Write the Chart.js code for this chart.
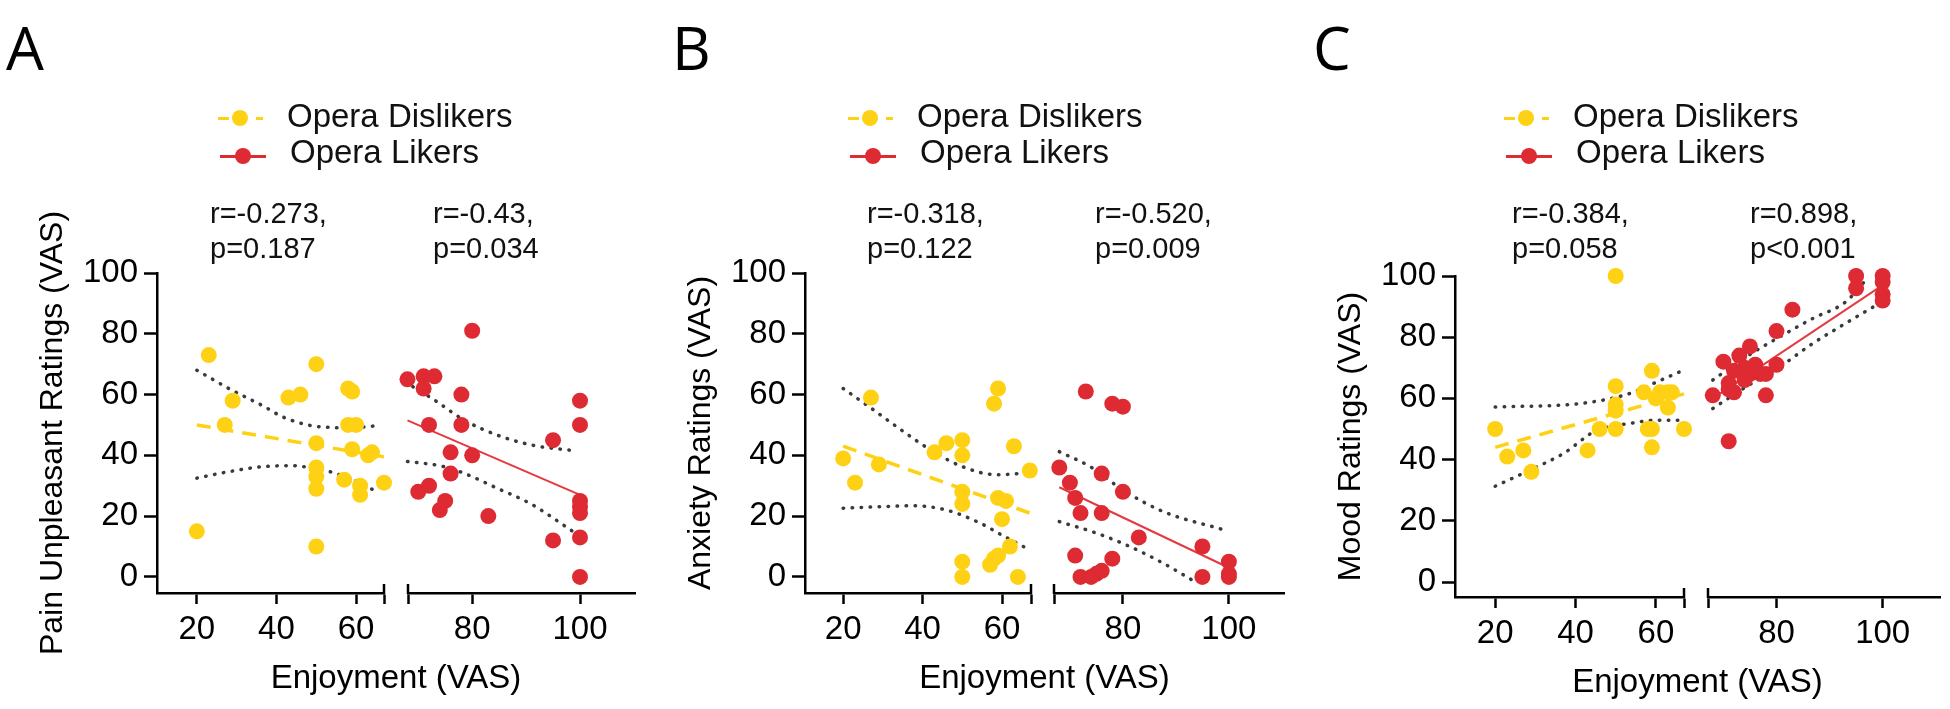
<!DOCTYPE html>
<html>
<head>
<meta charset="utf-8">
<script src="https://cdn.jsdelivr.net/npm/chart.js@4.4.1/dist/chart.umd.min.js"></script>
<style>
  body { margin: 0; background: #fff; width: 1950px; height: 709px; position: relative; overflow: hidden;
         font-family: "Liberation Sans", Arial, sans-serif; color: #111; }
  canvas { position: absolute; top: 0; }
  .letter { position: absolute; top: 17px; font: 60px/60px "Open Sans", sans-serif; color: #000; }
  .stat { position: absolute; top: 196px; font-size: 29px; line-height: 35px; white-space: nowrap; }
  .leg { position: absolute; font-size: 33px; line-height: 32px; white-space: nowrap; }
  .dot { position: absolute; width: 16px; height: 16px; border-radius: 50%; }
  .bar { position: absolute; height: 3px; }
</style>
</head>
<body>
<canvas id="panelA" width="650" height="709" style="left:0px"></canvas>
<canvas id="panelB" width="650" height="709" style="left:648px"></canvas>
<canvas id="panelC" width="650" height="709" style="left:1298px"></canvas>

<div class="letter" style="left:6px">A</div>
<div class="letter" style="left:672px">B</div>
<div class="letter" style="left:1313px">C</div>

<div id="legends"></div>

<div class="stat" style="left:210px">r=-0.273,<br>p=0.187</div>
<div class="stat" style="left:433px">r=-0.43,<br>p=0.034</div>
<div class="stat" style="left:867px">r=-0.318,<br>p=0.122</div>
<div class="stat" style="left:1095px">r=-0.520,<br>p=0.009</div>
<div class="stat" style="left:1512px">r=-0.384,<br>p=0.058</div>
<div class="stat" style="left:1750px">r=0.898,<br>p&lt;0.001</div>

<script>
const yTicks = [0, 20, 40, 60, 80, 100];
const leftTicks = [20, 40, 60];
const rightTicks = [80, 100];
const groupNames = ['Opera Dislikers', 'Opera Likers'];

// A - pain unpleasantness
const painDislikers = [[20,15],[23,73],[27,50],[29,58],[43,59],[46,60],[50,70],[50,44],[50,36],[50,33],[50,29],[50,10],
  [57,32],[58,62],[59,61],[58,50],[60,50],[59,42],[61,30],[61,27],[63,40],[64,41],[67,31]];
const painLikers = [[68,65],[71,66],[73,66],[71,62],[80,81],[78,60],[72,50],[78,50],[76,41],[80,40],[76,34],[70,28],
  [72,30],[75,25],[74,22],[83,20],[95,45],[95,12],[100,58],[100,50],[100,25],[100,23],[100,21],[100,13],[100,0]];
const painDisFit = [[20,50],[67,39.5]];
const painDisUpper = [[20,68],[24,65],[28,62],[32.5,59],[37,56],[41,53],[45,51],[49,49.7],[53.5,49.2],[58,49],[65,49.7]];
const painDisLower = [[20,32.5],[28,34.6],[36,36.2],[44,36.6],[49,35.8],[53.5,34.6],[59,32],[65,28.2]];
const painLikFit = [[68,51.5],[100,27]];
const painLikUpper = [[69,62.6],[73,58.2],[78.5,51.6],[84.6,46.7],[91,43.4],[99,41.5]];
const painLikLower = [[68,38],[74.7,36.3],[78.5,34.1],[84.6,29.2],[90.7,24.2],[99,14.6]];

// B - anxiety
const anxDislikers = [[20,39],[23,31],[27,59],[29,37],[43,41],[46,44],[50,45],[50,40],[50,28],[50,24],[50,5],[50,0],
  [58,57],[59,62],[63,43],[67,35],[59,26],[61,25],[60,19],[62,10],[59,7],[58,6],[57,4],[64,0]];
const anxLikers = [[68,36],[70,31],[71,26],[72,21],[71,7],[73,61],[72,0],[74,0],[75,1],[76,2],[76,34],[76,21],
  [78,57],[80,56],[80,28],[78,6],[83,13],[95,10],[95,0],[100,5],[100,1],[100,0]];
const anxDisFit = [[20,43],[67,21]];
const anxDisUpper = [[20,62],[27.6,55],[33.5,49.4],[42,41.8],[50,36.3],[58.7,33.6],[65.4,34.1]];
const anxDisLower = [[20,22.6],[29.3,23.1],[37.7,23.4],[46,22],[54.5,17.7],[60.3,13.5],[66.2,9.4]];
const anxLikFit = [[68,29.5],[100,3]];
const anxLikUpper = [[68,41.2],[73.8,36.3],[80,28.6],[87.6,21.5],[99,15.5]];
const anxLikLower = [[68,18.2],[75,14.4],[81.3,10],[87.6,4.5],[94,-2]];

// C - mood
const moodDislikers = [[20,50],[23,41],[27,43],[29,36],[43,43],[46,50],[50,100],[50,64],[50,58],[50,56],[50,50],
  [57,62],[59,69],[58,50],[59,50],[59,44],[60,60],[61,62],[63,62],[64,62],[63,57],[67,50]];
const moodLikers = [[68,61],[70,72],[71,46],[71,65],[71,63],[72,69],[72,62],[73,74],[74,66],[74,70],[75,77],[75,68],
  [76,71],[77,68],[78,68],[78,61],[80,82],[80,71],[83,89],[95,100],[95,96],[100,100],[100,98],[100,94],[100,92]];
const moodDisFit = [[20,44],[67,61.5]];
const moodDisUpper = [[20,57.2],[41,58.3],[53.5,61.6],[59.4,64.9],[66.8,69.2]];
const moodDisLower = [[20,31.3],[28.7,36.6],[37,42],[45.3,49.6],[53.5,51.8],[60.2,52.9],[66.8,52.9]];
const moodLikFit = [[68,60],[100,97]];
const moodLikUpper = [[68,66],[74.3,73.6],[80.6,80.1],[86.8,86.1],[93,91.5],[96.8,98.6]];
const moodLikLower = [[68,56.7],[74.3,63.8],[80.6,70.3],[86.8,77.9],[93,84.5],[99.3,91]];

const fam = '"Liberation Sans", Arial, sans-serif';
const gold = '#FFD114';
const red = '#DE2A33';
const dots = '#3a3a3a';

const pts = a => a.map(d => ({ x: d[0], y: d[1] }));

function scatterSet(label, data, axis, color) {
  return { label, data: pts(data), xAxisID: axis, yAxisID: 'y', order: 1, clip: false,
    pointRadius: 8, pointBackgroundColor: color, pointBorderWidth: 0, borderColor: color, showLine: false };
}
function lineSet(data, axis, color, width, dash, curved) {
  return { data: pts(data), xAxisID: axis, yAxisID: 'y', order: 2, clip: false, showLine: true,
    borderColor: color, borderWidth: width, borderDash: dash, borderCapStyle: curved ? 'round' : 'butt',
    cubicInterpolationMode: curved ? 'monotone' : 'default', pointRadius: 0 };
}

// little upward caps where the broken x axis segments end
const segmentCaps = {
  id: 'segmentCaps',
  afterDraw(chart) {
    const ctx = chart.ctx;
    ctx.save();
    ctx.strokeStyle = '#000';
    ctx.lineWidth = 2.5;
    [['xL', 'max'], ['xR', 'min']].forEach(([id, end]) => {
      const s = chart.scales[id];
      const x = Math.round(s.getPixelForValue(s[end]));
      ctx.beginPath();
      ctx.moveTo(x, s.top - 9);
      ctx.lineTo(x, s.top + 1);
      ctx.stroke();
    });
    ctx.restore();
  }
};

function segAxis(range, labels, weight, caps) {
  return {
    type: 'linear', axis: 'x', position: 'bottom', stack: 'enjoy', stackWeight: weight,
    min: range[0], max: range[1],
    afterBuildTicks: s => { s.ticks = labels.concat(caps).map(v => ({ value: v })); },
    afterFit: s => { s.height = 55; },
    border: { display: true, color: '#000', width: 2.5 },
    grid: { display: true, drawOnChartArea: false, tickLength: 11, tickWidth: 2.5, color: '#000', tickColor: '#000' },
    ticks: { autoSkip: false, maxRotation: 0, padding: 6, color: '#000', font: { size: 33, family: fam },
      callback: v => labels.includes(v) ? String(v) : '' }
  };
}

function makePanel(id, p) {
  new Chart(document.getElementById(id), {
    type: 'scatter',
    data: {
      datasets: [
        scatterSet(groupNames[0], p.dis, 'xL', gold),
        scatterSet(groupNames[1], p.lik, 'xR', red),
        lineSet(p.disFit, 'xL', gold, 3.5, [14, 9], false),
        lineSet(p.disUp, 'xL', dots, 3.5, [0.5, 8.5], true),
        lineSet(p.disLo, 'xL', dots, 3.5, [0.5, 8.5], true),
        lineSet(p.likFit, 'xR', '#E53940', 2, [], false),
        lineSet(p.likUp, 'xR', dots, 3.5, [0.5, 8.5], true),
        lineSet(p.likLo, 'xR', dots, 3.5, [0.5, 8.5], true)
      ]
    },
    plugins: [segmentCaps],
    options: {
      responsive: false,
      animation: false,
      layout: { padding: { top: p.top, left: 0, right: p.right, bottom: p.bottom } },
      plugins: { legend: { display: false }, tooltip: { enabled: false } },
      scales: {
        y: {
          type: 'linear', position: 'left', min: p.yMin, max: 100,
          afterBuildTicks: s => { s.ticks = yTicks.map(v => ({ value: v })); },
          afterFit: s => { s.width = 157; },
          border: { display: true, color: '#000', width: 2.5 },
          grid: { display: true, drawOnChartArea: false, tickLength: 13, tickWidth: 2.5, color: '#000', tickColor: '#000' },
          ticks: { padding: 6, color: '#000', font: { size: 33, family: fam } },
          title: { display: true, text: p.yTitle, color: '#000', font: { size: 32, family: fam }, padding: { top: 34, bottom: 0 } }
        },
        xL: segAxis(p.leftRange, leftTicks, p.w[0], [p.leftRange[1]]),
        xGap: {
          type: 'linear', axis: 'x', position: 'bottom', stack: 'enjoy', stackWeight: p.w[1], min: 0, max: 1,
          border: { display: false }, grid: { display: false }, ticks: { display: false }
        },
        xR: segAxis(p.rightRange, rightTicks, p.w[2], [p.rightRange[0]]),
        xt: {
          type: 'linear', axis: 'x', position: 'bottom', min: 0, max: 1,
          afterFit: s => { s.height = 55; },
          border: { display: false }, grid: { display: false }, ticks: { display: false },
          title: { display: true, text: 'Enjoyment (VAS)', color: '#000', font: { size: 33, family: fam }, padding: { top: 0, bottom: 4 } }
        }
      }
    }
  });
}

makePanel('panelA', { yTitle: 'Pain Unpleasant Ratings (VAS)', yMin: -5.3, top: 273, right: 15, bottom: 6,
  leftRange: [10, 67], rightRange: [68.1, 110.2], w: [227, 24, 227],
  dis: painDislikers, lik: painLikers, disFit: painDisFit, disUp: painDisUpper, disLo: painDisLower,
  likFit: painLikFit, likUp: painLikUpper, likLo: painLikLower });

makePanel('panelB', { yTitle: 'Anxiety Ratings (VAS)', yMin: -5.3, top: 273, right: 14, bottom: 6,
  leftRange: [10.4, 67.3], rightRange: [67, 110.4], w: [226, 23, 230],
  dis: anxDislikers, lik: anxLikers, disFit: anxDisFit, disUp: anxDisUpper, disLo: anxDisLower,
  likFit: anxLikFit, likUp: anxLikUpper, likLo: anxLikLower });

makePanel('panelC', { yTitle: 'Mood Ratings (VAS)', yMin: -4.9, top: 276, right: 8, bottom: 2,
  leftRange: [10, 67], rightRange: [67.1, 110.8], w: [229, 24, 232],
  dis: moodDislikers, lik: moodLikers, disFit: moodDisFit, disUp: moodDisUpper, disLo: moodDisLower,
  likFit: moodLikFit, likUp: moodLikUpper, likLo: moodLikLower });

// legends (html, one per panel)
const legendOffsets = [0, 630, 1286];
const legHost = document.getElementById('legends');
legendOffsets.forEach(dx => {
  legHost.insertAdjacentHTML('beforeend',
    `<div class="bar" style="left:${218 + dx}px;top:117px;width:11px;background:${gold}"></div>` +
    `<div class="dot" style="left:${232 + dx}px;top:110px;background:${gold}"></div>` +
    `<div class="bar" style="left:${256 + dx}px;top:117px;width:7px;background:${gold}"></div>` +
    `<div class="leg" style="left:${287 + dx}px;top:100px">${groupNames[0]}</div>` +
    `<div class="bar" style="left:${220 + dx}px;top:155px;width:46px;background:${red}"></div>` +
    `<div class="dot" style="left:${235 + dx}px;top:148px;background:${red}"></div>` +
    `<div class="leg" style="left:${290 + dx}px;top:136px">${groupNames[1]}</div>`);
});
</script>
</body>
</html>
